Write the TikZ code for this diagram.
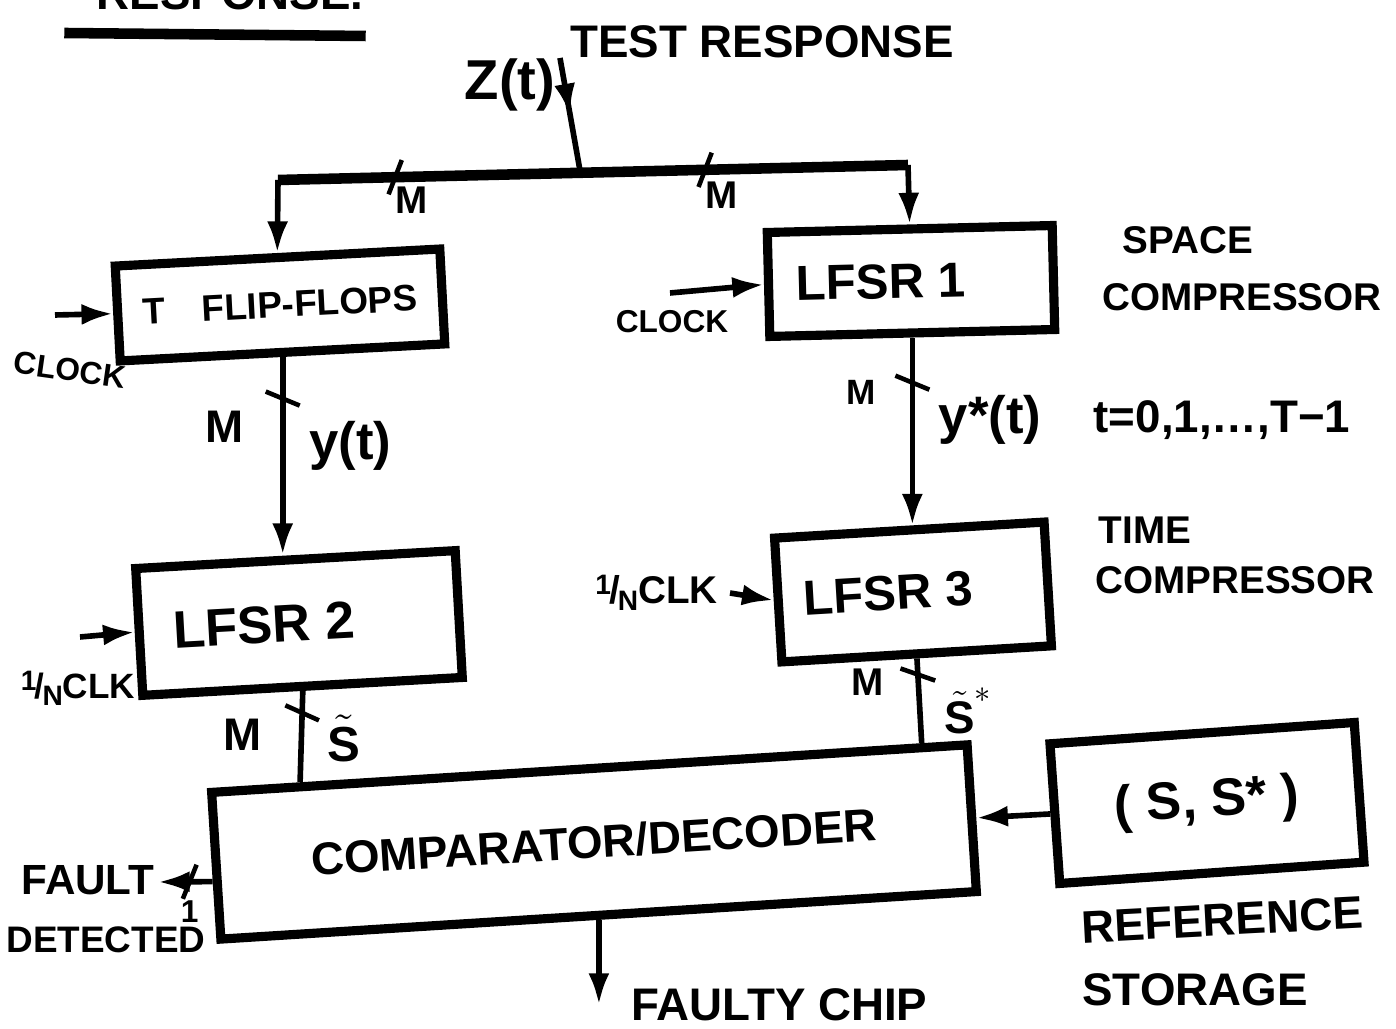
\documentclass[tikz,border=0pt]{standalone}
\usepackage{fontspec}
\setmainfont{Liberation Sans}
\usetikzlibrary{arrows.meta,positioning,calc,decorations.markings}
\newcommand{\hw}[1]{\fontsize{#1}{#1}\selectfont\bfseries}
\newcommand{\oneN}{\raisebox{.45ex}{\fontsize{8}{8}\selectfont 1}\kern-.05em/\kern-.05em\raisebox{-.35ex}{\fontsize{8}{8}\selectfont N}}

\begin{document}
\begin{tikzpicture}[
  font=\bfseries,
  box/.style={draw, line width=2.6pt, inner sep=0pt, align=center},
  conn/.style={line width=1.6pt},
  arr/.style={conn, -{Latex[length=9pt,width=6pt]}},
  bus/.style={line width=3pt},
  wslash/.style={postaction={decorate, decoration={markings,
      mark=at position #1 with {\draw[-, line width=1.3pt] (-0.07,-0.17) -- (0.07,0.17);}}}},
  midarr/.style={postaction={decorate, decoration={markings,
      mark=at position #1 with {\arrow{Latex[length=9pt,width=6pt]}}}}},
]
\clip (0,0) rectangle (13.96,-10.29);

\node[font=\hw{13}, anchor=base] (head) at (2.3,-0.10) {RESPONSE.};
\draw[line width=3pt] ([xshift=-0.2cm,yshift=-0.23cm]head.base west) -- ([xshift=-0.1cm,yshift=-0.26cm]head.base east);

\node[box, minimum width=3.25cm, minimum height=0.95cm, rotate=3, font=\hw{10.5}] (tff) at (2.80,-3.05) {T\quad FLIP-FLOPS};
\node[box, minimum width=3.2cm, minimum height=1.27cm, rotate=3.2, font=\hw{15}] (lfsr2) at (2.99,-6.23) {LFSR 2\hspace{0.7cm}};
\node[box, minimum width=2.85cm, minimum height=1.04cm, rotate=1.4, font=\hw{14}] (lfsr1) at (9.11,-2.81) {LFSR 1\hspace{0.6cm}};
\node[box, minimum width=2.7cm, minimum height=1.24cm, rotate=3.4, font=\hw{14}] (lfsr3) at (9.13,-5.92) {LFSR 3\hspace{0.5cm}};
\node[box, minimum width=7.57cm, minimum height=1.47cm, rotate=3.6, font=\hw{13}] (comp) at (5.94,-8.42) {COMPARATOR/DECODER};
\node[box, minimum width=3.05cm, minimum height=1.4cm, rotate=4, font=\hw{15}] (ref) at (12.07,-8.03) {( S, S* )};

\coordinate (busL) at (2.78,-1.80);
\coordinate (busR) at (9.08,-1.65);
\coordinate (busJ) at ($(busL)!0.48!(busR)$);
\coordinate (zin) at (5.60,-0.58);

\node[font=\hw{16}] (zt) at (5.10,-0.85) {Z(t)};
\node[font=\hw{13}] (test) at (7.62,-0.42) {TEST RESPONSE};
\draw[conn, midarr=.5] (zin) -- (busJ);
\draw[bus, wslash=.186, wslash=.678] (busL) -- (busR);
\node[font=\hw{11}] (mL) at (4.12,-2.0) {M};
\node[font=\hw{11}] (mR) at (7.22,-1.95) {M};
\draw[arr] (busL) -- (tff.north);
\draw[arr] (busR) -- (lfsr1.north);

\draw[arr, wslash=.21] (tff.south) -- node[pos=.35, left=.25cm, font=\hw{13}] (m1) {M}
  node[pos=.45, right=.12cm, font=\hw{15}] (yt) {y(t)} (tff.south |- lfsr2.north);
\draw[arr, wslash=.24] (lfsr1.south) -- node[pos=.29, left=.22cm, font=\hw{10}] (m4) {M}
  node[pos=.44, right=.12cm, font=\hw{15}] (ystar) {y*(t)} (lfsr1.south |- lfsr3.north);
\node[font=\hw{13}] (trange) at (12.22,-4.20) {t=0,1,\dots,T−1};

\coordinate (c2) at ($(comp.north west)!.122!(comp.north east)$);
\coordinate (c3) at ($(comp.north west)!.935!(comp.north east)$);
\draw[conn, wslash=.24] (lfsr2.south) -- node[pos=.48, left=.25cm, font=\hw{13}] (m2) {M}
  node[pos=.52, right=.12cm, font=\hw{14}] (st) {$\tilde{\textbf{S}}$} (c2);
\draw[conn, wslash=.19] (lfsr3.south) -- node[pos=.28, left=.2cm, font=\hw{11}] (m3) {M}
  node[pos=.62, right=.1cm, font=\hw{13}] (sst) {$\tilde{\textbf{S}}^{*}$} (c3);

\draw[arr] (ref.west) -- (comp.east);
\coordinate (out) at ($(comp.south)+(0,-0.85)$);
\draw[arr] (comp.south) -- (out);
\node[font=\hw{13}, right=0.2cm of out] (faulty) {FAULTY CHIP};

\coordinate (cw) at ($(comp.north west)!.6!(comp.south west)$);
\coordinate (fd) at (1.58,-8.82);
\draw[arr, wslash=.42] (cw) -- node[pos=.42, below=.04cm, font=\hw{9}] (one) {1} (fd);
\node[font=\hw{12}] (fault) at (0.88,-8.80) {FAULT};
\node[font=\hw{10.5}] (detected) at (1.06,-9.40) {DETECTED};

\coordinate (ck1) at (0.55,-3.15);
\draw[arr] (ck1) -- (tff.west);
\node[font=\hw{9}, rotate=-8] (clk1) at (0.70,-3.70) {CLOCK};
\coordinate (ck2) at (6.70,-2.93);
\draw[arr] (ck2) -- (lfsr1.west);
\node[font=\hw{9}] (clk2) at (6.72,-3.22) {CLOCK};
\coordinate (ck3) at (0.80,-6.37);
\draw[arr] (ck3) -- (lfsr2.west);
\node[font=\hw{10}] (clk3) at (0.78,-6.88) {\oneN CLK};
\coordinate (ck4) at (7.30,-5.93);
\draw[arr] (ck4) -- (lfsr3.west);
\node[font=\hw{11}, left=0cm of ck4] (clk4) {\oneN CLK};

\node[font=\hw{11}] (spc1) at (11.88,-2.40) {SPACE};
\node[font=\hw{11}] (spc2) at (12.42,-2.97) {COMPRESSOR};
\node[font=\hw{11}] (tim1) at (11.45,-5.30) {TIME};
\node[font=\hw{11}] (tim2) at (12.35,-5.80) {COMPRESSOR};
\node[font=\hw{13}, rotate=3] (refl) at (12.22,-9.20) {REFERENCE};
\node[font=\hw{13}] (stor) at (11.95,-9.90) {STORAGE};
\end{tikzpicture}
\end{document}
